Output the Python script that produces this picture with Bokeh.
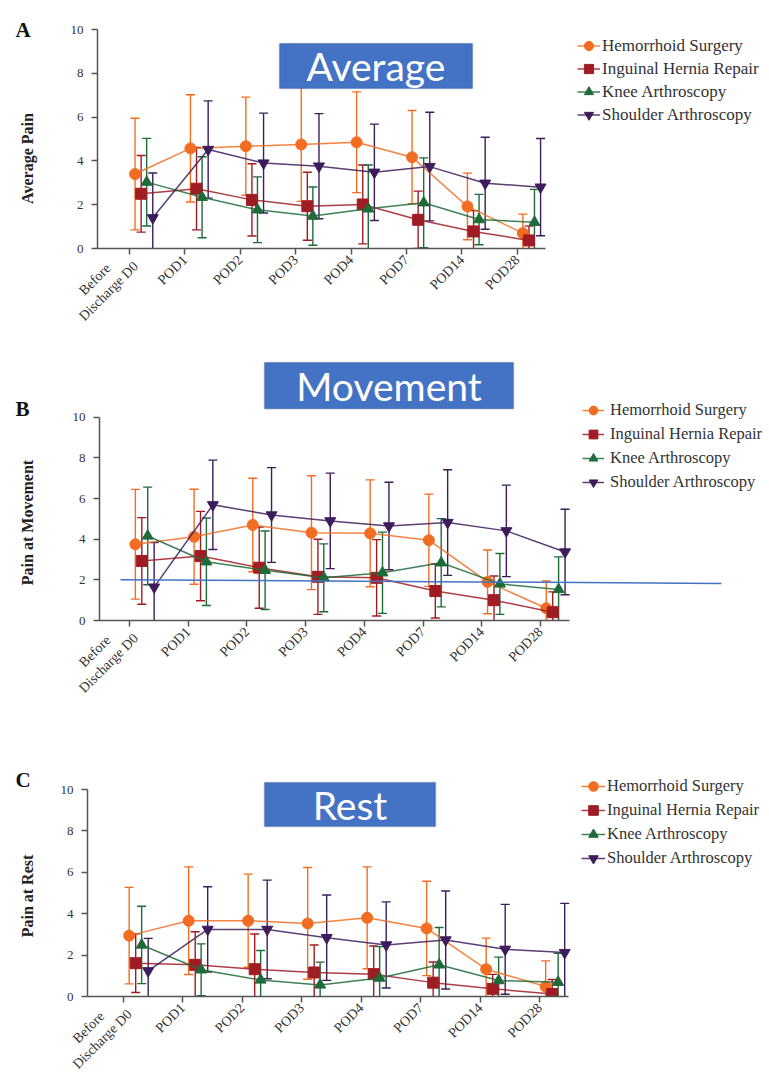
import numpy as np
from bokeh.plotting import figure
from bokeh.layouts import column, row
from bokeh.models import (ColumnDataSource, Whisker, TeeHead, Legend, LegendItem, Label,
                          BoxAnnotation, Arrow, FixedTicker, Range1d)
from bokeh.core.properties import value
from bokeh.embed import file_html
from bokeh.resources import INLINE

# ---------------- data ----------------
NB = "\u00a0"
categories = ["Before" + NB * 6 + "\nDischarge D0", "POD1", "POD2", "POD3", "POD4", "POD7", "POD14", "POD28"]
series_names = ["Hemorrhoid Surgery", "Inguinal Hernia Repair", "Knee Arthroscopy", "Shoulder Arthroscopy"]
y_ticks = [0, 2, 4, 6, 8, 10]
panel_letters = ["A", "B", "C"]
panel_titles = ["Average", "Movement", "Rest"]
y_titles = ["Average Pain", "Pain at Movement", "Pain at Rest"]

# Panel A - Average pain (mean and SD)
avg_hemorrhoid = [3.4, 4.57, 4.67, 4.75, 4.85, 4.17, 1.92, 0.7]
avg_hemorrhoid_sd = [2.55, 2.45, 2.24, 2.6, 2.3, 2.13, 1.52, 0.87]
avg_hernia = [2.5, 2.73, 2.22, 1.93, 2.01, 1.31, 0.78, 0.37]
avg_hernia_sd = [1.75, 1.88, 1.65, 1.55, 1.8, 1.31, 0.95, 0.65]
avg_knee = [3.03, 2.34, 1.77, 1.48, 1.81, 2.09, 1.32, 1.2]
avg_knee_sd = [2.0, 1.85, 1.5, 1.33, 2.0, 2.05, 1.15, 1.5]
avg_shoulder = [1.4, 4.52, 3.9, 3.76, 3.48, 3.74, 2.98, 2.8]
avg_shoulder_sd = [2.05, 2.22, 2.28, 2.4, 2.2, 2.48, 2.1, 2.22]

# Panel B - Pain at movement
mov_hemorrhoid = [3.75, 4.12, 4.7, 4.32, 4.29, 3.95, 1.9, 0.6]
mov_hemorrhoid_sd = [2.7, 2.34, 2.3, 2.8, 2.63, 2.27, 1.57, 1.34]
mov_hernia = [2.93, 3.17, 2.6, 2.15, 2.1, 1.45, 1.0, 0.41]
mov_hernia_sd = [2.13, 2.2, 2.0, 1.85, 1.88, 1.33, 1.19, 1.0]
mov_knee = [4.16, 2.89, 2.47, 2.1, 2.35, 2.84, 1.8, 1.53]
mov_knee_sd = [2.4, 2.15, 1.93, 1.67, 2.0, 2.17, 1.5, 1.6]
mov_shoulder = [1.64, 5.69, 5.19, 4.9, 4.65, 4.82, 4.41, 3.37]
mov_shoulder_sd = [2.2, 2.2, 2.33, 2.35, 2.15, 2.6, 2.25, 2.1]

# Panel C - Pain at rest
rest_hemorrhoid = [2.94, 3.66, 3.66, 3.53, 3.8, 3.29, 1.32, 0.48]
rest_hemorrhoid_sd = [2.33, 2.6, 2.25, 2.7, 2.46, 2.28, 1.5, 1.24]
rest_hernia = [1.61, 1.53, 1.32, 1.16, 1.08, 0.67, 0.37, 0.12]
rest_hernia_sd = [1.42, 1.6, 1.7, 1.33, 1.36, 1.0, 0.7, 0.7]
rest_knee = [2.49, 1.29, 0.8, 0.56, 0.89, 1.53, 0.77, 0.69]
rest_knee_sd = [1.87, 1.25, 1.42, 1.1, 1.52, 1.8, 1.13, 1.4]
rest_shoulder = [1.24, 3.24, 3.24, 2.84, 2.49, 2.73, 2.28, 2.12]
rest_shoulder_sd = [1.57, 2.06, 2.38, 2.06, 2.08, 2.37, 2.17, 2.38]

# ---------------- style ----------------
colors = ["#F26D21", "#A01C24", "#1E6B3A", "#3D1C5C"]
markers = ["circle", "square", "triangle", "inverted_triangle"]
sizes = [11, 11, 11, 11]
offsets = [0.1, 0.21, 0.31, 0.42]
SERIF = "Liberation Serif"
AXIS_COLOR = "#555555"
TEXT_COLOR = "#333333"
BOX_FILL = "#4472C4"
BOX_LINE = "#2F528F"
TOTAL_W = 768
TOTAL_H = 1086
STRIP_W = 40
MAIN_W = TOTAL_W - STRIP_W


def build_panel(means, sds, title, cfg):
    fx0 = cfg["axis_x"]
    tick0, step = cfg["tick0"], cfg["step"]
    zero_y, ppu = cfg["zero_y"], cfg["ppu"]
    ftop = cfg["frame_top"]
    fbot = zero_y
    fig_top, fig_bot = cfg["fig"]
    fright = TOTAL_W

    def X(px):
        return (px - tick0) / step

    def Y(py):
        return (zero_y - py) / ppu

    p = figure(width=MAIN_W, height=fig_bot - fig_top,
               x_range=Range1d(X(fx0), X(fright)), y_range=Range1d(0, Y(ftop)),
               output_backend="svg", toolbar_location=None, frame_align=False,
               min_border_left=int(fx0 - STRIP_W), min_border_right=0,
               min_border_top=int(ftop - fig_top), min_border_bottom=int(fig_bot - fbot))
    p.outline_line_color = None
    p.xgrid.visible = False
    p.ygrid.visible = False

    items = []
    for i, name in enumerate(series_names):
        m = np.array(means[i], dtype=float)
        s = np.array(sds[i], dtype=float)
        xpos = np.arange(len(categories)) + offsets[i]
        src = ColumnDataSource(dict(x=xpos, y=m, lo=m - s, hi=m + s))
        w = Whisker(source=src, base="x", upper="hi", lower="lo", dimension="height",
                    line_color=colors[i], line_width=1.4,
                    upper_head=TeeHead(size=9, line_color=colors[i], line_width=1.4),
                    lower_head=TeeHead(size=9, line_color=colors[i], line_width=1.4))
        p.add_layout(w)
        ln = p.line("x", "y", source=src, line_color=colors[i], line_width=1.5, line_alpha=0.85)
        sc = p.scatter("x", "y", source=src, marker=markers[i], size=sizes[i],
                       fill_color=colors[i], line_color=colors[i])
        items.append(LegendItem(label=name, renderers=[ln, sc]))

    # axes
    p.xaxis.ticker = FixedTicker(ticks=list(range(len(categories))))
    p.xaxis.major_label_overrides = {i: c for i, c in enumerate(categories)}
    p.xaxis.major_label_orientation = np.pi / 4
    p.xaxis.bounds = (X(fx0), X(cfg["axis_end"]))
    p.yaxis.ticker = FixedTicker(ticks=y_ticks)
    p.yaxis.bounds = (0, 10)
    for ax in (p.xaxis, p.yaxis):
        ax.axis_line_color = AXIS_COLOR
        ax.axis_line_width = 1.5
        ax.major_tick_line_color = AXIS_COLOR
        ax.major_tick_line_width = 1.5
        ax.major_tick_out = 6
        ax.major_tick_in = 0
        ax.minor_tick_line_color = None
        ax.major_label_text_font = SERIF
        ax.major_label_text_color = TEXT_COLOR
    p.xaxis.major_label_text_font_size = "14px"
    p.yaxis.major_label_text_font_size = "13px"
    p.xaxis.major_label_standoff = 3
    p.yaxis.major_label_standoff = 8

    # legend (inside the extended frame)
    lg = cfg["legend"]
    leg_bottom = lg["first"] - lg["row"] / 2 + len(series_names) * lg["row"]
    legend = Legend(items=items, location=(int(lg["x"] - fx0), int(fbot - leg_bottom)),
                    orientation="vertical", spacing=0, padding=0, margin=0,
                    label_height=int(round(lg["row"])), glyph_height=int(round(lg["row"])),
                    glyph_width=lg["gw"], label_standoff=lg["standoff"],
                    label_text_font=SERIF, label_text_font_size=lg["fs"],
                    label_text_color=TEXT_COLOR, border_line_color=None,
                    background_fill_alpha=0)
    p.add_layout(legend)

    # highlighted title box
    bl, br, bt, bb = cfg["box"]
    p.add_layout(BoxAnnotation(left=X(bl), right=X(br), top=Y(bt), bottom=Y(bb),
                               fill_color=BOX_FILL, fill_alpha=1.0, line_color=BOX_LINE,
                               line_width=1.5, level="overlay"))
    p.add_layout(Label(x=X((bl + br) / 2), y=Y((bt + bb) / 2), text=title,
                       text_align="center", text_baseline="middle", text_font="Lato",
                       text_font_size="39px", text_color="white", level="overlay"))
    if "hline" in cfg:
        h = cfg["hline"]
        p.add_layout(Arrow(end=None, x_start=X(h[0]), y_start=Y(h[1]), x_end=X(h[2]),
                           y_end=Y(h[3]), line_color=BOX_FILL, line_width=1.5))
    return p


cfgA = dict(axis_x=97, tick0=129, step=55.4, zero_y=248, ppu=21.9, frame_top=29,
            axis_end=545, fig=(0, 358),
            legend=dict(first=45, row=23.1, x=577, gw=23, standoff=2, fs="17px"),
            box=(279, 472, 43, 88))
cfgB = dict(axis_x=99, tick0=129, step=58.7, zero_y=619.3, ppu=20.27, frame_top=360,
            axis_end=569, fig=(358, 730),
            legend=dict(first=410, row=23.7, x=582, gw=22, standoff=6, fs="16.5px"),
            box=(264, 513, 362, 408), hline=(120, 578.7, 721, 582.3))
cfgC = dict(axis_x=87, tick0=122.7, step=59.5, zero_y=996, ppu=20.7, frame_top=770,
            axis_end=568, fig=(730, 1086),
            legend=dict(first=785, row=24.1, x=581, gw=24, standoff=2, fs="16.5px"),
            box=(264, 435, 782, 826))

pA = build_panel([avg_hemorrhoid, avg_hernia, avg_knee, avg_shoulder],
                 [avg_hemorrhoid_sd, avg_hernia_sd, avg_knee_sd, avg_shoulder_sd],
                 panel_titles[0], cfgA)
pB = build_panel([mov_hemorrhoid, mov_hernia, mov_knee, mov_shoulder],
                 [mov_hemorrhoid_sd, mov_hernia_sd, mov_knee_sd, mov_shoulder_sd],
                 panel_titles[1], cfgB)
pC = build_panel([rest_hemorrhoid, rest_hernia, rest_knee, rest_shoulder],
                 [rest_hemorrhoid_sd, rest_hernia_sd, rest_knee_sd, rest_shoulder_sd],
                 panel_titles[2], cfgC)

# left strip: panel letters and vertical axis titles
strip = figure(width=STRIP_W, height=TOTAL_H, x_range=Range1d(0, STRIP_W),
               y_range=Range1d(TOTAL_H, 0), output_backend="svg", toolbar_location=None,
               x_axis_location=None, y_axis_location=None, min_border=0, frame_align=False)
strip.outline_line_color = None
strip.grid.visible = False
strip.text(x=[15, 15, 15], y=[29, 408, 779], text=panel_letters,
           text_font=value(SERIF), text_font_style="bold", text_font_size="21px",
           text_color="#111111", text_baseline="alphabetic", text_align="left")
strip.text(x=[27, 27, 27], y=[158, 522, 895.5], text=y_titles, angle=np.pi / 2,
           text_font=value(SERIF), text_font_style="bold", text_font_size="16px",
           text_color="#222222", text_baseline="middle", text_align="center")

layout = row(strip, column(pA, pB, pC, spacing=0), spacing=0)
open("out.html", "w").write(file_html(layout, INLINE))
